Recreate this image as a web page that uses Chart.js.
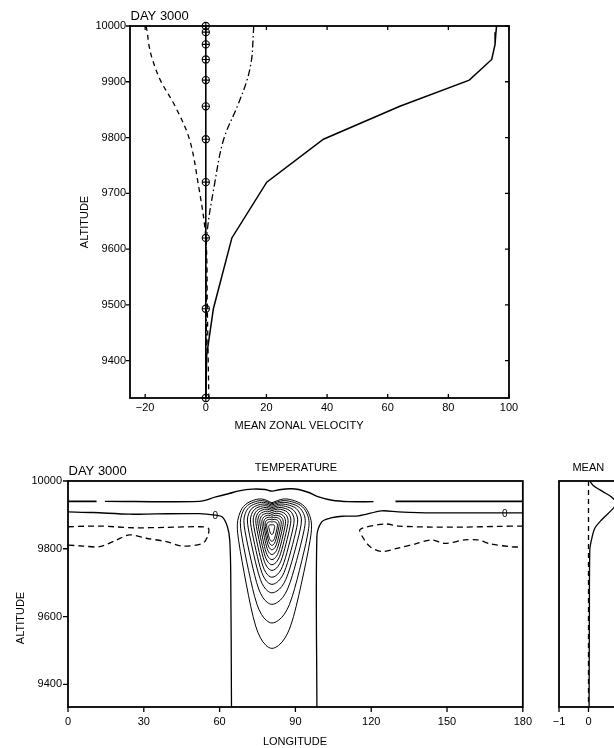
<!DOCTYPE html>
<html>
<head>
<meta charset="utf-8">
<script src="https://cdn.jsdelivr.net/npm/chart.js@4.4.1/dist/chart.umd.min.js"></script>
<style>
  html, body { margin: 0; padding: 0; background: #fff; overflow: hidden; width: 614px; height: 748px; }
  canvas { position: absolute; }
  #profile { left: 0; top: 0; }
  #section { left: 0; top: 440px; }
  #mean { left: 530px; top: 440px; }
</style>
</head>
<body>
<canvas id="profile" width="614" height="440"></canvas>
<canvas id="section" width="540" height="308"></canvas>
<canvas id="mean" width="100" height="308"></canvas>
<script>
// ---- upper panel: mean zonal velocity profiles ----
const levels = [10000, 9989, 9967, 9940, 9903, 9856, 9797, 9720, 9620, 9493, 9333];
const restProfile = [0, 0, 0, 0, 0, 0, 0, 0, 0, 0, 0];
const lowerProfile = [-19.7, -19.3, -18.8, -17.6, -15.0, -10.1, -5.4, -2.6, 0.0, 0.5, 1.0];
const upperProfile = [15.8, 15.7, 15.5, 15.1, 13.6, 10.4, 5.9, 3.0, 0.3, 0.2, 0.1];
const jetAltitude = [10000, 9989, 9967, 9940, 9903, 9856, 9797, 9720, 9620, 9493, 9410, 9333];
const jetVelocity = [95.9, 95.7, 95.4, 94.3, 86.9, 64.0, 38.8, 20.1, 8.6, 2.5, 0.3, 0.0];
const velocityTicks = [-20, 0, 20, 40, 60, 80, 100];
const altitudeTicks = [9400, 9500, 9600, 9700, 9800, 9900, 10000];

// ---- lower panel: temperature section, contour lines as [longitude, altitude] ----
const longitudeTicks = [0, 30, 60, 90, 120, 150, 180];
const sectionTicks = [9400, 9600, 9800, 10000];
const capWest1 = [[0, 9940], [11.3, 9940]];
const capWest2 = [[14.6, 9940], [52, 9940], [58.5, 9953], [63.8, 9963], [67.7, 9971], [73, 9976], [78, 9975],
  [80.8, 9970], [83.5, 9974], [88, 9977], [91.3, 9975], [95.3, 9966], [99.2, 9953], [104.5, 9943], [111, 9939], [120.9, 9939]];
const capEast = [[129.6, 9940], [180, 9940]];
const zeroWest = [[0, 9909], [10, 9907], [24.4, 9902], [35, 9903], [52, 9903.5], [58.3, 9899], [61.1, 9894],
  [63.1, 9865], [64, 9826], [64.4, 9729], [64.7, 9333]];
const zeroEast = [[98.5, 9333], [98.5, 9836], [100.5, 9880], [104, 9891], [108.4, 9896], [115, 9897],
  [124.1, 9912], [130.7, 9909], [143.8, 9906], [180, 9906]];
const coldWest = [[0, 9865], [12.6, 9867], [25.7, 9862], [38.8, 9863], [51.9, 9865], [55.6, 9860], [55.2, 9836],
  [53.3, 9816], [45.4, 9808], [38.9, 9821], [31, 9831], [24.4, 9841], [19.2, 9826], [12.6, 9806], [6, 9808], [0, 9811]];
const coldEast = [[180, 9867], [170, 9866], [156.9, 9864], [143.8, 9864], [130.7, 9867], [125.5, 9873], [115.6, 9857],
  [116.9, 9831], [119.6, 9806], [124.1, 9792], [130.7, 9802], [137.3, 9814], [143.8, 9826], [149.1, 9816],
  [157, 9826], [162.2, 9826], [167.4, 9814], [175.3, 9806], [180, 9805]];
const zeroLabels = [[58.3, 9899], [172.9, 9906]];

// warm core: closed contours, outermost first
const coreLon = 80.7;
const loopBottom = [9506, 9581, 9636, 9670, 9695, 9716, 9736, 9753, 9768, 9783, 9797, 9810, 9822, 9842];
const loopTop = [9947, 9942, 9937, 9932, 9927, 9922, 9917, 9911, 9905, 9899, 9893, 9887, 9880, 9871];
const loopWest = [67, 68.2, 69.6, 71, 72.2, 73.3, 74.3, 75.1, 75.9, 76.7, 77.4, 78, 78.6, 79.4];
const loopEast = [96.4, 95.4, 93.9, 92.4, 90.9, 89.5, 88.2, 87.1, 86.1, 85.2, 84.4, 83.6, 82.9, 81.8];
// outline of one core contour: [fraction of half width, fraction of height], top centre down to the tip
const loopShape = [[0, 0.975], [0.3, 1], [0.6, 0.985], [0.82, 0.95], [0.95, 0.89], [1, 0.82], [0.96, 0.72],
  [0.86, 0.58], [0.74, 0.43], [0.61, 0.28], [0.47, 0.15], [0.33, 0.07], [0.17, 0.02], [0, 0]];

// ---- side panel: zonal mean ----
const meanAltitude = [10000, 9987, 9968, 9953, 9934, 9914, 9885, 9860, 9826, 9797, 9600, 9333];
const meanValue = [0.04, 0.16, 0.5, 0.78, 0.95, 0.78, 0.44, 0.21, 0.1, 0.045, 0.03, 0.02];
const meanTicks = [-1, 0, 1];

const FONT = '"Liberation Sans", Arial, sans-serif';
Chart.defaults.font.family = FONT;
Chart.defaults.font.size = 11;
Chart.defaults.color = '#000';
Chart.defaults.animation = false;
Chart.defaults.responsive = false;
Chart.defaults.devicePixelRatio = 1;
Chart.defaults.plugins.legend.display = false;
Chart.defaults.plugins.tooltip.enabled = false;

const pts = (xs, ys) => xs.map((x, i) => ({ x, y: ys[i] }));
const pairs = (list) => list.map(([x, y]) => ({ x, y }));

function loopOutline(i) {
  const h = loopTop[i] - loopBottom[i];
  const east = loopShape.map(([u, v]) => ({ x: coreLon + u * (loopEast[i] - coreLon), y: loopBottom[i] + v * h }));
  const west = loopShape.slice(0, -1).reverse()
    .map(([u, v]) => ({ x: coreLon - u * (coreLon - loopWest[i]), y: loopBottom[i] + v * h }));
  return east.concat(west);
}

function axis(min, max, ticks, size, pad, horizontal, labels = true) {
  return {
    type: 'linear', min, max,
    afterBuildTicks: (s) => { s.ticks = ticks.map((v) => ({ value: v })); },
    afterFit: (s) => { if (horizontal) s.height = size; else s.width = size; },
    grid: { display: false, drawTicks: false },
    border: { display: false },
    ticks: {
      display: labels, padding: pad, maxRotation: 0, autoSkip: false,
      callback: (v) => String(v).replace('-', '\u2212')
    }
  };
}

// box round the plot area, with tick marks (+1 inward, -1 outward)
function frame(dir, len) {
  return {
    id: 'frame',
    afterDatasetsDraw(chart) {
      const { ctx, chartArea: a, scales } = chart;
      ctx.save();
      ctx.strokeStyle = '#000';
      ctx.lineWidth = 1.8;
      ctx.strokeRect(a.left, a.top, a.right - a.left, a.bottom - a.top);
      ctx.lineWidth = 1.3;
      ctx.beginPath();
      scales.x.ticks.forEach((t) => {
        const px = scales.x.getPixelForValue(t.value);
        if (dir.bottom) { ctx.moveTo(px, a.bottom); ctx.lineTo(px, a.bottom - dir.bottom * len); }
        if (dir.top) { ctx.moveTo(px, a.top); ctx.lineTo(px, a.top + dir.top * len); }
      });
      scales.y.ticks.forEach((t) => {
        const py = scales.y.getPixelForValue(t.value);
        if (dir.left) { ctx.moveTo(a.left, py); ctx.lineTo(a.left + dir.left * len, py); }
        if (dir.right) { ctx.moveTo(a.right, py); ctx.lineTo(a.right - dir.right * len, py); }
      });
      ctx.stroke();
      ctx.restore();
    }
  };
}

function captions(items) {
  return {
    id: 'captions',
    afterDraw(chart) {
      const ctx = chart.ctx;
      items.forEach((it) => {
        ctx.save();
        ctx.fillStyle = '#000';
        ctx.font = `${it.size || 11}px ${FONT}`;
        ctx.textAlign = it.align || 'center';
        ctx.textBaseline = 'middle';
        ctx.translate(it.x, it.y);
        if (it.rotate) ctx.rotate(it.rotate);
        ctx.fillText(it.text, 0, 0);
        ctx.restore();
      });
    }
  };
}

// "0" tags on the zero contour
const contourTags = {
  id: 'contourTags',
  afterDatasetsDraw(chart) {
    const { ctx, scales } = chart;
    ctx.save();
    ctx.fillStyle = '#000';
    ctx.font = `10px ${FONT}`;
    ctx.textAlign = 'center';
    ctx.textBaseline = 'middle';
    zeroLabels.forEach(([lon, alt]) => {
      ctx.fillText('0', scales.x.getPixelForValue(lon), scales.y.getPixelForValue(alt) + 1);
    });
    ctx.restore();
  }
};

const line = (data, extra = {}) => Object.assign({
  data, showLine: true, borderColor: '#000', borderWidth: 1.3, pointRadius: 0, tension: 0
}, extra);

// upper panel
new Chart(document.getElementById('profile'), {
  type: 'scatter',
  data: {
    datasets: [
      line(pts(jetVelocity, jetAltitude), { borderWidth: 1.5 }),
      line(pts(lowerProfile, levels), { borderDash: [5, 4], tension: 0.35 }),
      line(pts(upperProfile, levels), { borderDash: [7, 3, 1.5, 3], tension: 0.35 }),
      line(pts(restProfile, levels), {
        borderWidth: 1.6, pointStyle: 'circle', pointRadius: 3.6, pointBorderWidth: 1.1,
        pointBorderColor: '#000', pointBackgroundColor: 'rgba(0,0,0,0)', clip: false
      }),
      line(pts(restProfile, levels), {
        showLine: false, pointStyle: 'cross', pointRadius: 3.6, pointBorderWidth: 1.1,
        pointBorderColor: '#000', clip: false
      })
    ]
  },
  options: {
    layout: { padding: { left: 0, right: 105, top: 26, bottom: 0 } },
    scales: {
      x: axis(-25, 100, velocityTicks, 42, 3, true),
      y: axis(9333, 10000, altitudeTicks, 130, 4, false)
    }
  },
  plugins: [
    frame({ left: -1, bottom: 1, top: 1, right: 1 }, 4),
    captions([
      { text: 'DAY 3000', x: 130.5, y: 16.5, size: 13, align: 'left' },
      { text: 'ALTITUDE', x: 85, y: 222, rotate: -Math.PI / 2 },
      { text: 'MEAN ZONAL VELOCITY', x: 299, y: 425.5 }
    ])
  ]
});

// lower panel
const sectionSets = [
  line(pairs(capWest1), { borderWidth: 1.7 }),
  line(pairs(capWest2), { borderWidth: 1.4, tension: 0.3 }),
  line(pairs(capEast), { borderWidth: 1.7 }),
  line(pairs(zeroWest), { tension: 0.3 }),
  line(pairs(zeroEast), { tension: 0.3 }),
  line(pairs(coldWest), { borderDash: [6, 4], tension: 0.3 }),
  line(pairs(coldEast), { borderDash: [6, 4], tension: 0.3 })
];
loopBottom.forEach((_, i) => sectionSets.push(line(loopOutline(i), { borderWidth: 1, tension: 0.35 })));

new Chart(document.getElementById('section'), {
  type: 'scatter',
  data: { datasets: sectionSets },
  options: {
    layout: { padding: { left: 0, right: 15, top: 41, bottom: 0 } },
    scales: {
      x: axis(0, 180, longitudeTicks, 41, 8, true),
      y: axis(9333, 10000, sectionTicks, 68, 6, false)
    }
  },
  plugins: [
    frame({ left: -1, bottom: -1 }, 5),
    contourTags,
    captions([
      { text: 'DAY 3000', x: 68.5, y: 31, size: 13, align: 'left' },
      { text: 'TEMPERATURE', x: 296, y: 28 },
      { text: 'ALTITUDE', x: 20.7, y: 178, rotate: -Math.PI / 2 },
      { text: 'LONGITUDE', x: 295, y: 301.7 }
    ])
  ]
});

// side panel
new Chart(document.getElementById('mean'), {
  type: 'scatter',
  data: {
    datasets: [
      line(pts(meanValue, meanAltitude), { tension: 0.3 }),
      line(pts([0, 0], [10000, 9333]), { borderDash: [5, 4] })
    ]
  },
  options: {
    layout: { padding: { left: 0, right: 12, top: 41, bottom: 0 } },
    scales: {
      x: axis(-1, 1, meanTicks, 41, 8, true),
      y: axis(9333, 10000, sectionTicks, 29, 6, false, false)
    }
  },
  plugins: [
    frame({ bottom: -1 }, 5),
    captions([{ text: 'MEAN', x: 58.3, y: 28.3 }])
  ]
});
</script>
</body>
</html>
